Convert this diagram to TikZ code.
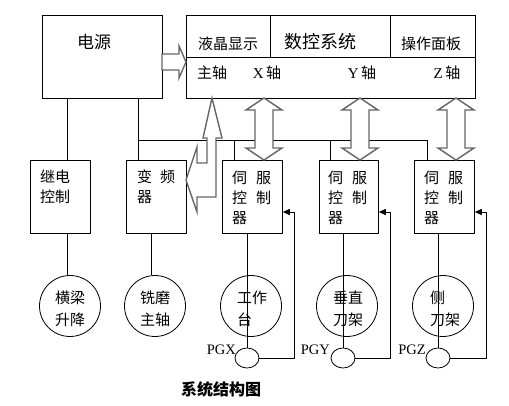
\documentclass[tikz,border=0pt]{standalone}
\usepackage{fontspec}
\setmainfont{Liberation Serif}
\newfontfamily\cjk{Noto Sans CJK SC}
\usetikzlibrary{arrows.meta,shapes.geometric}
\definecolor{arrgray}{HTML}{666666}
\begin{document}
\begin{tikzpicture}[x=1pt,y=-1pt,
  blk/.style={draw, line width=0.8pt, rectangle, inner sep=0, anchor=north west},
  circ/.style={draw, line width=0.8pt, circle, minimum size=61pt, inner sep=0},
  enc/.style={draw, line width=0.8pt, ellipse, minimum width=24pt, minimum height=20pt, inner sep=0},
  wire/.style={line width=0.8pt},
  fb/.style={line width=0.8pt, -{Triangle[length=7pt,width=6pt]}},
  hollow/.style={draw=arrgray, fill=white, line width=1.4pt, line join=miter},
  txt/.style={inner sep=0, font=\cjk\fontsize{15}{20}\selectfont},
  ctxt/.style={inner sep=0, font=\cjk\fontsize{15}{22}\selectfont},
  lat/.style={inner sep=0, font=\fontsize{14.5}{16}\selectfont}]
\useasboundingbox (0,0) rectangle (509,406);

% top boxes
\node[blk, minimum width=120pt, minimum height=83pt] (dy) at (42,15) {};
\node[blk, minimum width=289pt, minimum height=83pt] (nc) at (186,15) {};
\node[blk, minimum width=84pt, minimum height=42pt] (lcd) at (186,15) {};
\node[blk, minimum width=85pt, minimum height=42pt] (pan) at (390,15) {};
\draw[wire] (lcd.south east) -- (pan.south west);

% middle boxes
\node[blk, minimum width=60pt, minimum height=73pt] (jd) at (30,160) {};
\node[blk, minimum width=60pt, minimum height=73pt] (bp) at (126,160) {};
\node[blk, minimum width=60pt, minimum height=73pt] (s1) at (222,160) {};
\node[blk, minimum width=59pt, minimum height=73pt] (s2) at (319,160) {};
\node[blk, minimum width=60pt, minimum height=73pt] (s3) at (414,160) {};

% circles
\node[circ] (c0) at (70,306) {};
\node[circ] (c1) at (155,306) {};
\node[circ] (c2) at (251,306) {};
\node[circ] (c3) at (347,306) {};
\node[circ] (c4) at (443,306) {};

% encoders
\node[enc] (e1) at (247,358) {};
\node[enc] (e2) at (343,358) {};
\node[enc] (e3) at (438,358) {};

% wire x-positions
\coordinate (x0) at (67,0);
\coordinate (x1) at (138,0);
\coordinate (x2) at (151,0);
\coordinate (xs1) at (234,0);
\coordinate (xs2) at (330,0);
\coordinate (xs3) at (427,0);
\coordinate (hb) at (0,140);
\coordinate (fx1) at (294,212);
\coordinate (fx2) at (390,212);
\coordinate (fx3) at (486,212);

% wires
\draw[wire] (x0 |- dy.south) -- (x0 |- jd.north);
\draw[wire] (x0 |- jd.south) -- (x0 |- c0.north);
\draw[wire] (x1 |- dy.south) -- (x1 |- bp.north);
\draw[wire] (x1 |- hb) -- (xs3 |- hb);
\draw[wire] (xs1 |- hb) -- (xs1 |- s1.north);
\draw[wire] (xs2 |- hb) -- (xs2 |- s2.north);
\draw[wire] (xs3 |- hb) -- (xs3 |- s3.north);
\draw[wire] (x2 |- bp.south) -- (x2 |- c1.north);
\draw[wire] (e1.north |- s1.south) -- (e1.north |- c2.south);
\draw[wire] (e2.north |- s2.south) -- (e2.north |- c3.south);
\draw[wire] (e3.north |- s3.south) -- (e3.north |- c4.south);
\draw[wire] (e1.north |- c2.south) -- (e1.north);
\draw[wire] (e2.north |- c3.south) -- (e2.north);
\draw[wire] (e3.north |- c4.south) -- (e3.north);
\draw[fb] (e1.east) -| (fx1) -- (fx1 -| s1.east);
\draw[fb] (e2.east) -| (fx2) -- (fx2 -| s2.east);
\draw[fb] (e3.east) -| (fx3) -- (fx3 -| s3.east);

% hollow arrows
\draw[hollow] (162,54) -- (179,54) -- (179,46) -- (186,62) -- (179,78) -- (179,70) -- (162,70) -- cycle;
\foreach \cx in {264,360,456}{
  \draw[hollow] (\cx,98) -- (\cx+18,110) -- (\cx+9,110) -- (\cx+9,148) -- (\cx+18,148) -- (\cx,160)
    -- (\cx-18,148) -- (\cx-9,148) -- (\cx-9,110) -- (\cx-18,110) -- cycle;
}
\draw[hollow] (212,98) -- (222,138) -- (216,138) -- (216,197) -- (197,197) -- (197,212) -- (186,180)
  -- (197,147) -- (197,163) -- (207,163) -- (207,138) -- (203,138) -- cycle;

% texts
\node[inner sep=0, font=\cjk\fontsize{17}{20}\selectfont] (tdy) at (94,42) {电源};
\node[inner sep=0, font=\cjk\fontsize{18}{20}\selectfont] (tnc) at (320,42) {数控系统};
\node[txt] (tlcd) at (228,44) {液晶显示};
\node[txt] (tpan) at (431,44) {操作面板};
\node[txt] (tzz) at (212,73) {主轴};
\node[txt] (tx) at (267,73) {\fontspec{Liberation Serif}X\,\cjk 轴};
\node[txt] (ty) at (362,73) {\fontspec{Liberation Serif}Y\,\cjk 轴};
\node[txt] (tz) at (447,73) {\fontspec{Liberation Serif}Z\,\cjk 轴};

\node[txt, align=left, anchor=west] (tjd) at (40,187) {继电\\控制};
\node[txt, align=left, anchor=west] (tbp) at (137,187) {变\hspace{8pt}频\\器};
\node[txt, align=left, anchor=west] (ts1) at (232,198) {伺\hspace{9pt}服\\控\hspace{9pt}制\\器};
\node[txt, align=left, anchor=west] (ts2) at (328,198) {伺\hspace{9pt}服\\控\hspace{9pt}制\\器};
\node[txt, align=left, anchor=west] (ts3) at (424,198) {伺\hspace{9pt}服\\控\hspace{9pt}制\\器};

\node[ctxt, align=center] (tc0) at (70,309) {横梁\\升降};
\node[ctxt, align=center] (tc1) at (155,309) {铣磨\\主轴};
\node[ctxt, align=left, anchor=west] (tc2) at (237,309) {工作\\台};
\node[ctxt, align=left, anchor=west] (tc3) at (333,309) {垂直\\刀架};
\node[ctxt, align=left, anchor=west] (tc4) at (430,309) {侧\\刀架};

\node[lat, anchor=east] (pgx) at (236,350) {PGX};
\node[lat, anchor=east] (pgy) at (330,350) {PGY};
\node[lat, anchor=east] (pgz) at (426,350) {PGZ};

\node[inner sep=0, font=\cjk\bfseries\fontsize{16}{18}\selectfont] (cap) at (221,389) {系统结构图};
\end{tikzpicture}
\end{document}
